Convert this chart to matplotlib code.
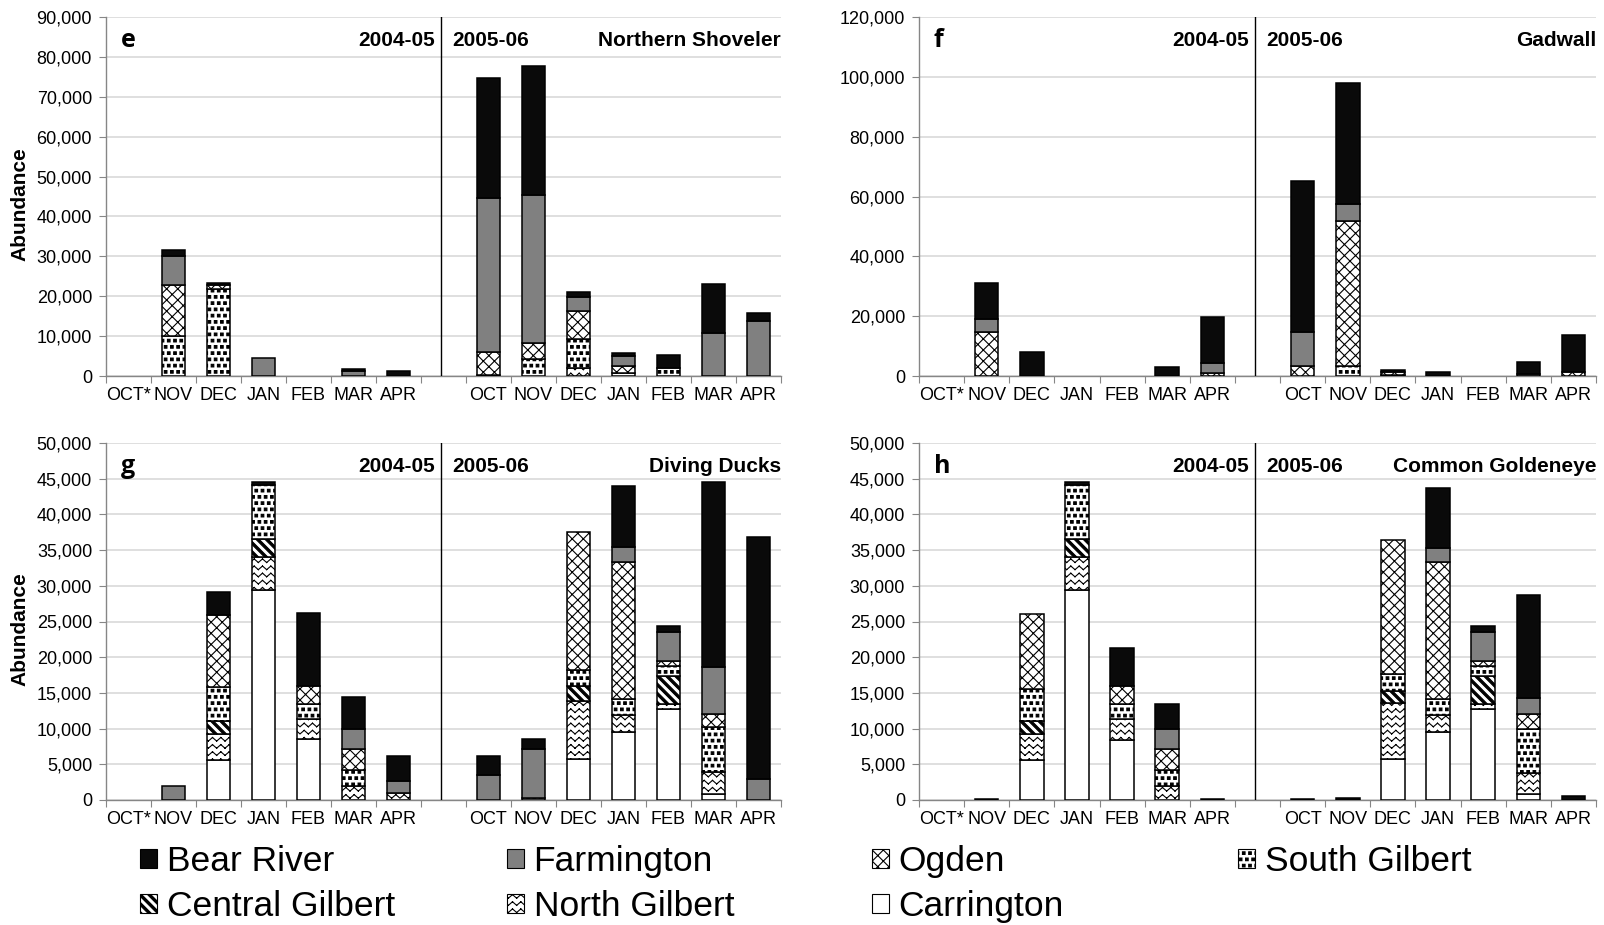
import warnings
import numpy as np
import matplotlib
matplotlib.use('Agg')
import matplotlib.pyplot as plt
from matplotlib import hatch as mhatch
from matplotlib.path import Path
from matplotlib.patches import Patch
from matplotlib.ticker import FuncFormatter, MultipleLocator

warnings.filterwarnings('ignore')

plt.rcParams['font.family'] = ['Liberation Sans', 'DejaVu Sans']
plt.rcParams['hatch.linewidth'] = 0.8

# months: 2004-05 (OCT* .. APR) then 2005-06 (OCT .. APR)
months = ['OCT*', 'NOV', 'DEC', 'JAN', 'FEB', 'MAR', 'APR',
          'OCT', 'NOV', 'DEC', 'JAN', 'FEB', 'MAR', 'APR']
sites = ['Carrington', 'North Gilbert', 'Central Gilbert', 'South Gilbert',
         'Ogden', 'Farmington', 'Bear River']

# e - Northern Shoveler
shov_carrington = [0, 0, 0, 0, 0, 0, 0, 0, 0, 0, 0, 0, 0, 0]
shov_north_gilbert = [0, 0, 0, 0, 0, 0, 0, 0, 0, 1900, 0, 0, 0, 0]
shov_central_gilbert = [0, 0, 0, 0, 0, 0, 0, 0, 0, 0, 0, 0, 0, 0]
shov_south_gilbert = [0, 10000, 21800, 0, 0, 0, 0, 300, 4200, 7300, 800, 2000, 0, 0]
shov_ogden = [0, 12800, 900, 0, 0, 0, 0, 5600, 4000, 7100, 1800, 0, 0, 0]
shov_farmington = [0, 7200, 0, 4600, 0, 1200, 0, 38800, 37100, 3600, 2500, 0, 10900, 13800]
shov_bear_river = [0, 1600, 500, 0, 0, 600, 1200, 30000, 32300, 1200, 600, 3200, 12100, 1900]

# f - Gadwall
gadw_carrington = [0, 0, 0, 0, 0, 0, 0, 0, 0, 0, 0, 0, 0, 0]
gadw_north_gilbert = [0, 0, 0, 0, 0, 0, 0, 0, 0, 0, 0, 0, 0, 0]
gadw_central_gilbert = [0, 0, 0, 0, 0, 0, 0, 0, 0, 0, 0, 0, 0, 0]
gadw_south_gilbert = [0, 0, 0, 0, 0, 0, 0, 0, 3300, 500, 0, 0, 0, 0]
gadw_ogden = [0, 14800, 0, 0, 0, 0, 1000, 3300, 48500, 1000, 0, 0, 0, 1200]
gadw_farmington = [0, 4200, 0, 0, 0, 0, 3400, 11300, 5700, 0, 0, 0, 600, 0]
gadw_bear_river = [0, 12200, 7900, 0, 0, 3100, 15200, 50500, 40600, 500, 1400, 0, 4200, 12500]

# g - Diving Ducks
dive_carrington = [0, 0, 5600, 29400, 8500, 0, 0, 0, 0, 5800, 9500, 12700, 900, 0]
dive_north_gilbert = [0, 0, 3700, 4700, 2900, 1900, 1000, 0, 0, 8100, 2400, 700, 3000, 0]
dive_central_gilbert = [0, 0, 1800, 2400, 0, 0, 0, 0, 0, 2000, 0, 4000, 0, 0]
dive_south_gilbert = [0, 0, 4700, 7600, 2100, 2300, 0, 0, 300, 2300, 2300, 1400, 6300, 0]
dive_ogden = [0, 0, 10100, 0, 2500, 3000, 0, 0, 0, 19300, 19200, 700, 1800, 0]
dive_farmington = [0, 2000, 0, 0, 0, 2800, 1700, 3500, 6800, 0, 2100, 4000, 6600, 3000]
dive_bear_river = [0, 0, 3300, 400, 10200, 4400, 3500, 2700, 1400, 0, 8500, 800, 26000, 33900]

# h - Common Goldeneye
gold_carrington = [0, 0, 5600, 29400, 8400, 0, 0, 0, 0, 5700, 9500, 12700, 900, 0]
gold_north_gilbert = [0, 0, 3700, 4700, 2900, 1900, 0, 0, 0, 7900, 2400, 700, 2900, 0]
gold_central_gilbert = [0, 0, 1800, 2400, 0, 0, 0, 0, 0, 1700, 0, 4000, 0, 0]
gold_south_gilbert = [0, 0, 4500, 7600, 2100, 2300, 0, 0, 0, 2300, 2300, 1400, 6100, 0]
gold_ogden = [0, 0, 10400, 0, 2600, 2900, 0, 0, 0, 18800, 19100, 700, 2100, 0]
gold_farmington = [0, 0, 0, 0, 0, 2800, 0, 0, 0, 0, 2000, 4000, 2300, 0]
gold_bear_river = [0, 100, 0, 400, 5300, 3500, 100, 150, 250, 0, 8400, 800, 14400, 500]


# ---- custom hatch patterns (unit tile, repeated) ----
class WaveHatch(mhatch.HatchPatternBase):
    # rows of zig-zags, drawn as separate segments so nothing gets filled
    rows, teeth, amp = 14, 12, 0.018

    def __init__(self, hatch, density):
        self.num_vertices = self.rows * self.teeth * 4 if 'z' in hatch else 0

    def set_vertices_and_codes(self, vertices, codes):
        xs = np.linspace(0, 1, 2 * self.teeth + 1)
        dy = np.where(np.arange(len(xs)) % 2 == 0, -self.amp, self.amp)
        pts = []
        for r in range(self.rows):
            y0 = (r + 0.5) / self.rows
            for i in range(len(xs) - 1):
                pts.append((xs[i], y0 + dy[i]))
                pts.append((xs[i + 1], y0 + dy[i + 1]))
        vertices[:] = pts
        codes[0::2] = Path.MOVETO
        codes[1::2] = Path.LINETO


class CrossHatch(mhatch.HatchPatternBase):
    k = 9

    def __init__(self, hatch, density):
        self.num_vertices = 4 * (2 * self.k + 1) if 'k' in hatch else 0

    def set_vertices_and_codes(self, vertices, codes):
        pts = []
        for j in range(-self.k, self.k + 1):
            c = j / self.k
            pts += [(c, 0), (1 + c, 1)]
        for j in range(0, 2 * self.k + 1):
            c = j / self.k
            pts += [(c, 0), (c - 1, 1)]
        vertices[:] = pts
        codes[0::2] = Path.MOVETO
        codes[1::2] = Path.LINETO


class StripeHatch(mhatch.HatchPatternBase):
    # thick "\" stripes as filled parallelograms
    k, w = 11, 0.016

    def __init__(self, hatch, density):
        self.num_vertices = 5 * (2 * self.k + 3) if 'c' in hatch else 0

    def set_vertices_and_codes(self, vertices, codes):
        pts = []
        for j in range(-1, 2 * self.k + 2):
            c = j / self.k
            pts += [(c - self.w, 0), (c + self.w, 0), (c + self.w - 1, 1),
                    (c - self.w - 1, 1), (c - self.w, 0)]
        vertices[:] = pts
        codes[:] = [Path.MOVETO, Path.LINETO, Path.LINETO, Path.LINETO,
                    Path.CLOSEPOLY] * (len(pts) // 5)


class DotHatch(mhatch.HatchPatternBase):
    n, half = 16, 0.013

    def __init__(self, hatch, density):
        self.centers = []
        if 'd' in hatch:
            for r in range(self.n):
                y = (r + 0.5) / self.n
                if r % 2 == 0:
                    xs = [(c + 0.5) / self.n for c in range(self.n)]
                else:
                    xs = [c / self.n for c in range(self.n + 1)]
                self.centers += [(x, y) for x in xs]
        self.num_vertices = 5 * len(self.centers)

    def set_vertices_and_codes(self, vertices, codes):
        h = self.half
        pts = []
        for x, y in self.centers:
            pts += [(x - h, y - h), (x + h, y - h), (x + h, y + h),
                    (x - h, y + h), (x - h, y - h)]
        vertices[:] = pts
        codes[:] = [Path.MOVETO, Path.LINETO, Path.LINETO, Path.LINETO,
                    Path.CLOSEPOLY] * len(self.centers)


mhatch._hatch_types.extend([WaveHatch, CrossHatch, StripeHatch, DotHatch])

site_style = {
    'Carrington': dict(facecolor='white', hatch=None),
    'North Gilbert': dict(facecolor='white', hatch='z'),
    'Central Gilbert': dict(facecolor='white', hatch='c'),
    'South Gilbert': dict(facecolor='white', hatch='d'),
    'Ogden': dict(facecolor='white', hatch='k'),
    'Farmington': dict(facecolor='#808080', hatch=None),
    'Bear River': dict(facecolor='#0a0a0a', hatch=None),
}

panels = [
    ('e', 'Northern Shoveler', 90000, 10000,
     [shov_carrington, shov_north_gilbert, shov_central_gilbert, shov_south_gilbert,
      shov_ogden, shov_farmington, shov_bear_river]),
    ('f', 'Gadwall', 120000, 20000,
     [gadw_carrington, gadw_north_gilbert, gadw_central_gilbert, gadw_south_gilbert,
      gadw_ogden, gadw_farmington, gadw_bear_river]),
    ('g', 'Diving Ducks', 50000, 5000,
     [dive_carrington, dive_north_gilbert, dive_central_gilbert, dive_south_gilbert,
      dive_ogden, dive_farmington, dive_bear_river]),
    ('h', 'Common Goldeneye', 50000, 5000,
     [gold_carrington, gold_north_gilbert, gold_central_gilbert, gold_south_gilbert,
      gold_ogden, gold_farmington, gold_bear_river]),
]

W, H = 1604, 925
fig = plt.figure(figsize=(W / 100, H / 100), dpi=100)

# axes boxes in pixels: left, top, right, bottom
boxes = [(106, 17, 781, 376), (919, 17, 1596, 376),
         (106, 443, 781, 800), (919, 443, 1596, 800)]

xpos = np.array(list(range(7)) + list(range(8, 15)))
axis_grey = '#868686'

for (letter, species, ymax, ystep, series), (l, t, r, b) in zip(panels, boxes):
    ax = fig.add_axes([l / W, 1 - b / H, (r - l) / W, (b - t) / H])
    bottom = np.zeros(len(xpos))
    for name, vals in zip(sites, series):
        vals = np.array(vals, dtype=float)
        keep = vals > 0
        if keep.any():
            st = site_style[name]
            ax.bar(xpos[keep], vals[keep], 0.52, bottom=bottom[keep],
                   facecolor=st['facecolor'], hatch=st['hatch'],
                   edgecolor='black', linewidth=1.1, zorder=3)
        bottom += vals

    ax.set_xlim(-0.5, 14.5)
    ax.set_ylim(0, ymax)
    ax.axvline(6.95, color='black', lw=1.0, zorder=4)

    for side in ['top', 'right']:
        ax.spines[side].set_visible(False)
    ax.spines['left'].set_color(axis_grey)
    ax.spines['bottom'].set_color(axis_grey)
    ax.spines['left'].set_linewidth(1.0)
    ax.spines['bottom'].set_linewidth(1.0)

    ax.yaxis.set_major_locator(MultipleLocator(ystep))
    ax.yaxis.set_major_formatter(FuncFormatter(lambda v, _: f'{int(v):,}'))
    ax.yaxis.grid(True, color='#d9d9d9', lw=1.2, zorder=0)
    ax.set_axisbelow(True)
    ax.tick_params(axis='y', direction='out', length=5, color=axis_grey,
                   labelsize=13, pad=5)

    ax.set_xticks(np.arange(-0.5, 15, 1.0))
    ax.set_xticklabels([])
    ax.set_xticks(xpos, minor=True)
    ax.set_xticklabels(months, minor=True)
    ax.tick_params(axis='x', which='major', direction='out', length=5,
                   color=axis_grey)
    ax.tick_params(axis='x', which='minor', length=0, labelsize=13, pad=8)

    ty = 0.935
    tr = ax.get_xaxis_transform()
    ax.text(0.022, ty, letter, transform=ax.transAxes, ha='left', va='center',
            fontsize=18, fontweight='bold', family=['Open Sans', 'DejaVu Sans'])
    ax.text(6.82, ty, '2004-05', transform=tr, ha='right', va='center',
            fontsize=15, fontweight='bold')
    ax.text(7.2, ty, '2005-06', transform=tr, ha='left', va='center',
            fontsize=15, fontweight='bold')
    ax.text(1.0, ty, species, transform=ax.transAxes, ha='right', va='center',
            fontsize=15, fontweight='bold')

    if l < 500:
        fig.text(20 / W, 1 - ((t + b) / 2 + 8) / H, 'Abundance', rotation=90,
                 ha='center', va='center', fontsize=15, fontweight='bold')

# legend, laid out in four columns
def handle(name):
    st = site_style[name]
    return Patch(facecolor=st['facecolor'], hatch=st['hatch'],
                 edgecolor='black', linewidth=0.8)

columns = [(140, ['Bear River', 'Central Gilbert']),
           (507, ['Farmington', 'North Gilbert']),
           (872, ['Ogden', 'Carrington']),
           (1238, ['South Gilbert'])]
for x, names in columns:
    leg = fig.legend([handle(n) for n in names], names, loc='upper left',
                     bbox_to_anchor=(x / W, 1 - 845 / H), frameon=False,
                     fontsize=25.5, handlelength=0.47, handleheight=0.47,
                     handletextpad=0.28, labelspacing=0.34, borderpad=0,
                     borderaxespad=0)

fig.savefig('out.png', dpi=100)
